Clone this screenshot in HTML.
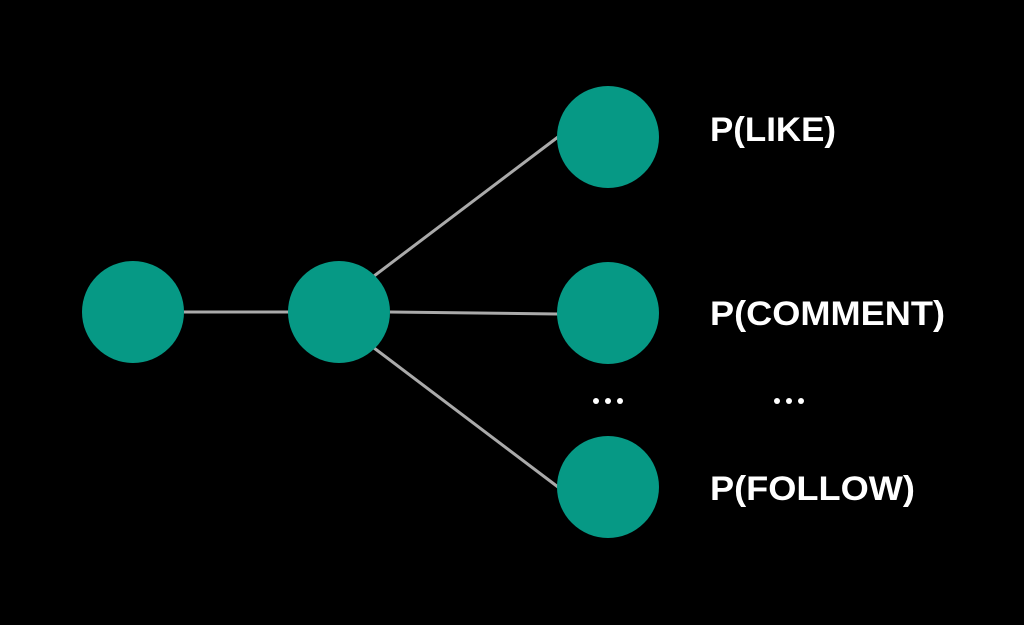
<!DOCTYPE html>
<html><head><style>html,body{margin:0;padding:0;background:#000;}svg{display:block}</style></head>
<body>
<svg width="1024" height="625" viewBox="0 0 1024 625" xmlns="http://www.w3.org/2000/svg">
<rect width="1024" height="625" fill="#000"/>
<g stroke="#aaaaaa" stroke-width="3">
<line x1="184" y1="312" x2="290" y2="312"/>
<line x1="374" y1="276" x2="558" y2="137"/>
<line x1="390" y1="312" x2="558" y2="314"/>
<line x1="374" y1="348" x2="558" y2="487"/>
</g>
<g fill="#069985">
<circle cx="133" cy="312" r="51"/>
<circle cx="339" cy="312" r="51"/>
<circle cx="608" cy="137" r="51"/>
<circle cx="608" cy="313" r="51"/>
<circle cx="608" cy="487" r="51"/>
</g>
<g fill="#fff">
<circle cx="596" cy="401" r="3"/><circle cx="608" cy="401" r="3"/><circle cx="620" cy="401" r="3"/>
<circle cx="777" cy="401" r="3"/><circle cx="789" cy="401" r="3"/><circle cx="801" cy="401" r="3"/>
</g>
<g fill="#fff" font-family="Liberation Sans, sans-serif" font-weight="bold" font-size="34">
<text x="710" y="141" textLength="126" lengthAdjust="spacingAndGlyphs">P(LIKE)</text>
<text x="710" y="325" textLength="235" lengthAdjust="spacingAndGlyphs">P(COMMENT)</text>
<text x="710" y="500" textLength="205" lengthAdjust="spacingAndGlyphs">P(FOLLOW)</text>
</g>
</svg>
</body></html>
